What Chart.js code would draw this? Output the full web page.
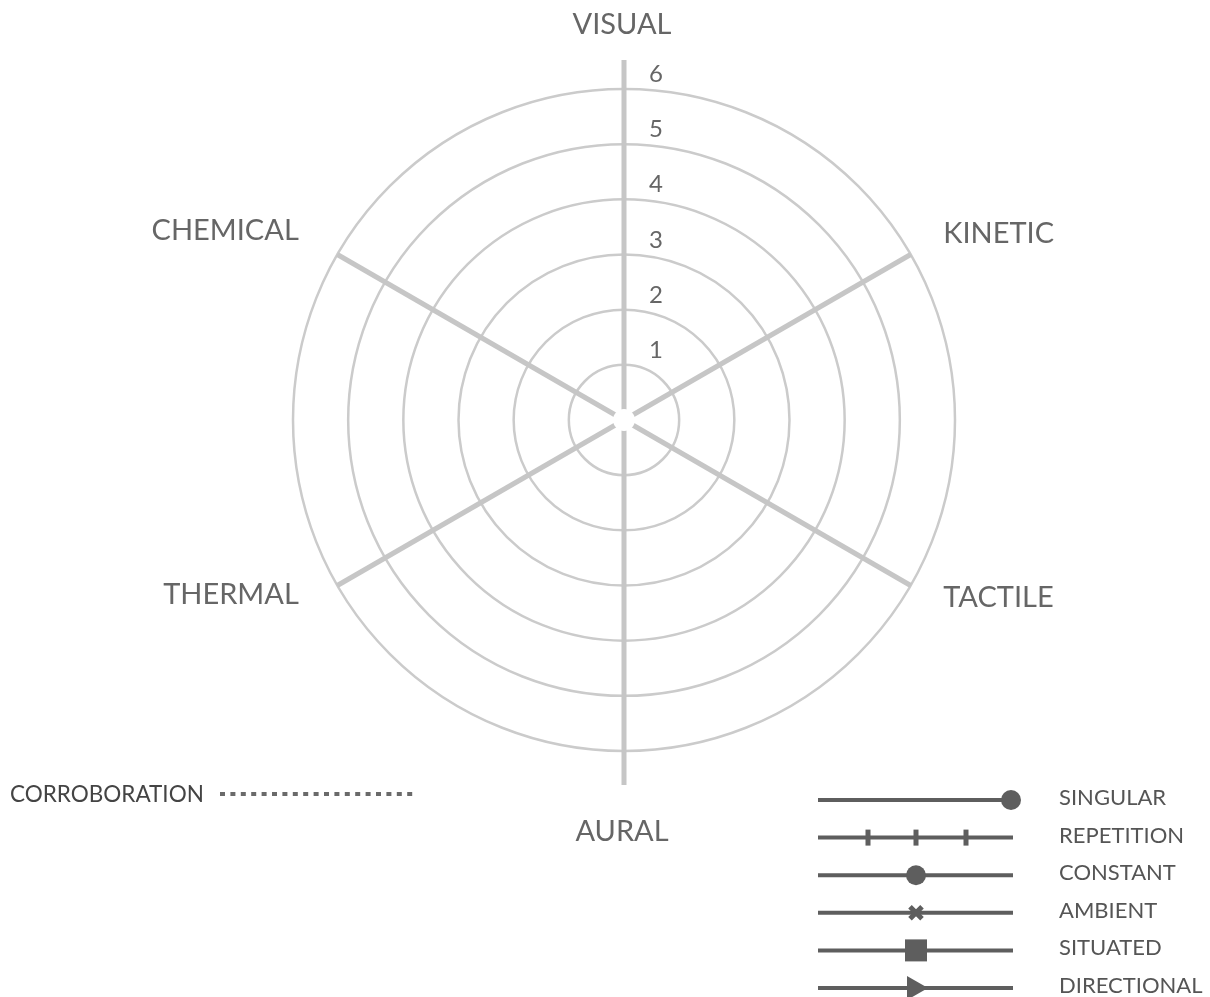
<!DOCTYPE html>
<html>
<head>
<meta charset="utf-8">
<title>Sensory radar</title>
<script src="https://cdn.jsdelivr.net/npm/chart.js@4/dist/chart.umd.min.js"></script>
<style>
    html, body { margin: 0; padding: 0; background: #fff; }
    #wrap { width: 1210px; height: 997px; }
</style>
</head>
<body>
<div id="wrap"><canvas id="radar-chart" width="1210" height="997"></canvas></div>
<script>
const categories = ['VISUAL', 'KINETIC', 'TACTILE', 'AURAL', 'THERMAL', 'CHEMICAL'];
const tickLabels = ['1', '2', '3', '4', '5', '6'];
const scaleMax = 6;
const legendLabels = ['SINGULAR', 'REPETITION', 'CONSTANT', 'AMBIENT', 'SITUATED', 'DIRECTIONAL'];
const legendMarkers = ['endDot', 'ticks', 'dot', 'cross', 'square', 'arrow'];
const corroborationLabel = 'CORROBORATION';

const FONT = 'Lato, "Open Sans", sans-serif';
const LABEL_GREY = '#666666';
const KEY_GREY = '#5e5e5e';

// draws everything the radial scale doesn't: tick numbers, axis labels, center gap, keys
const decorations = {
    id: 'decorations',
    afterDraw(chart) {
        const ctx = chart.ctx;
        const r = chart.scales.r;
        const cx = r.xCenter, cy = r.yCenter;

        ctx.save();

        // vertical axis runs past the outer ring
        const outer = r.getDistanceFromCenterForValue(scaleMax);
        ctx.strokeStyle = '#c6c6c6';
        ctx.lineWidth = 5;
        ctx.beginPath();
        let p = r.getPointPosition(0, outer);
        ctx.moveTo(p.x, p.y);
        p = r.getPointPosition(0, outer + 29);
        ctx.lineTo(p.x, p.y);
        p = r.getPointPosition(3, outer);
        ctx.moveTo(p.x, p.y);
        p = r.getPointPosition(3, outer + 34);
        ctx.lineTo(p.x, p.y);
        ctx.stroke();

        // small gap where the spokes meet
        ctx.fillStyle = '#ffffff';
        ctx.beginPath();
        ctx.arc(cx, cy, 11, 0, Math.PI * 2);
        ctx.fill();

        // tick numbers, right of the vertical axis, above each ring
        ctx.fillStyle = LABEL_GREY;
        ctx.font = '24px ' + FONT;
        ctx.textAlign = 'center';
        ctx.textBaseline = 'alphabetic';
        tickLabels.forEach((t, i) => {
            const d = r.getDistanceFromCenterForValue(i + 1);
            ctx.fillText(t, cx + 32, cy - d - 7);
        });

        // axis names
        ctx.font = '29px ' + FONT;
        categories.forEach((label, i) => {
            const ang = r.getIndexAngle(i);
            const s = Math.sin(ang), c = Math.cos(ang);
            if (Math.abs(s) < 0.01) {
                ctx.textAlign = 'center';
                if (c > 0) {
                    const q = r.getPointPosition(i, outer + 55);
                    ctx.fillText(label, q.x - 2, q.y);
                } else {
                    const q = r.getPointPosition(i, outer + 69);
                    ctx.fillText(label, q.x - 2, q.y + 21);
                }
            } else {
                const q = r.getPointPosition(i, outer + 33);
                ctx.textAlign = s > 0 ? 'left' : 'right';
                ctx.fillText(label, q.x + (s > 0 ? 4 : -10), q.y + (s > 0 ? 5 : 2));
            }
        });

        // key: line styles
        const x0 = 818, x1 = 1013, xm = 916;
        const rowTop = 800, rowStep = 37.6;
        ctx.strokeStyle = KEY_GREY;
        ctx.fillStyle = KEY_GREY;
        legendLabels.forEach((label, i) => {
            const y = rowTop + i * rowStep;
            ctx.lineWidth = 4;
            ctx.beginPath();
            ctx.moveTo(x0, y);
            ctx.lineTo(x1, y);
            ctx.stroke();

            const m = legendMarkers[i];
            if (m === 'endDot') {
                ctx.beginPath();
                ctx.arc(1011, y, 10, 0, Math.PI * 2);
                ctx.fill();
            } else if (m === 'ticks') {
                [868, 916, 966].forEach(tx => ctx.fillRect(tx - 2.5, y - 8, 5, 16));
            } else if (m === 'dot') {
                ctx.beginPath();
                ctx.arc(xm, y, 10, 0, Math.PI * 2);
                ctx.fill();
            } else if (m === 'cross') {
                ctx.lineWidth = 5;
                ctx.beginPath();
                ctx.moveTo(xm - 6, y - 6);
                ctx.lineTo(xm + 6, y + 6);
                ctx.moveTo(xm + 6, y - 6);
                ctx.lineTo(xm - 6, y + 6);
                ctx.stroke();
            } else if (m === 'square') {
                ctx.fillRect(xm - 11, y - 11, 22, 22);
            } else if (m === 'arrow') {
                ctx.beginPath();
                ctx.moveTo(xm - 9, y - 12);
                ctx.lineTo(xm + 12, y);
                ctx.lineTo(xm - 9, y + 12);
                ctx.closePath();
                ctx.fill();
            }

            ctx.font = '22px ' + FONT;
            ctx.textAlign = 'left';
            ctx.fillStyle = '#555555';
            ctx.fillText(label, 1059, y + 5);
            ctx.fillStyle = KEY_GREY;
        });

        // corroboration key, dotted
        ctx.font = '22.5px ' + FONT;
        ctx.fillStyle = '#444444';
        ctx.textAlign = 'left';
        ctx.fillText(corroborationLabel, 10, 802);
        ctx.fillStyle = '#6a6a6a';
        for (let dx = 220; dx <= 412; dx += 10.4) {
            ctx.fillRect(dx, 792, 5, 4);
        }

        ctx.restore();
    }
};

new Chart(document.getElementById('radar-chart').getContext('2d'), {
    type: 'radar',
    data: {
        labels: categories,
        datasets: []
    },
    options: {
        responsive: false,
        devicePixelRatio: 1,
        animation: false,
        layout: { padding: { left: 293, right: 255, top: 89, bottom: 246 } },
        plugins: {
            legend: { display: false },
            tooltip: { enabled: false }
        },
        scales: {
            r: {
                min: 0,
                max: scaleMax,
                ticks: { display: false, stepSize: 1 },
                pointLabels: { display: false },
                grid: { circular: true, color: '#cbcbcb', lineWidth: 2.5 },
                angleLines: { display: true, color: '#c6c6c6', lineWidth: 5 }
            }
        }
    },
    plugins: [decorations]
});
</script>
</body>
</html>
